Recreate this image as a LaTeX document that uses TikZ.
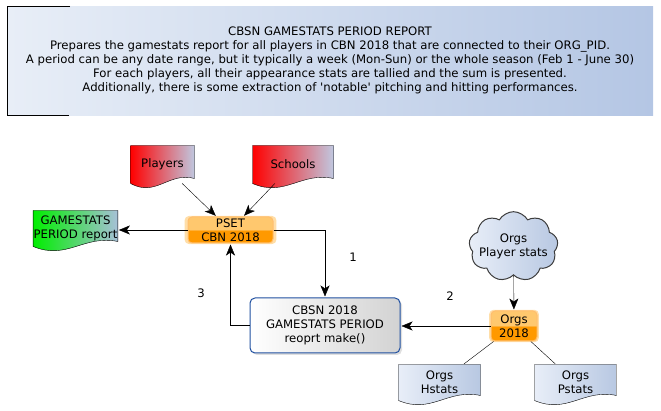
\documentclass[tikz,border=0pt]{standalone}
\usepackage{fontspec}
\setmainfont{DejaVu Sans}
\usepackage {tikz}
\usetikzlibrary {positioning,arrows.meta,shapes.symbols,shadows,backgrounds,calc}
\definecolor {noteleft}{RGB}{232,238,247}
\definecolor {noteright}{RGB}{180,198,228}
\definecolor {docred}{RGB}{255,0,0}
\definecolor {docredend}{RGB}{192,200,224}
\definecolor {docgreen}{RGB}{0,238,0}
\definecolor {docgreenend}{RGB}{168,192,216}
\definecolor {docblue}{RGB}{232,238,248}
\definecolor {docblueend}{RGB}{184,200,226}
\definecolor {psetlight}{RGB}{255,200,110}
\definecolor {psetdark}{RGB}{255,153,0}
\definecolor {psetedge}{RGB}{255,190,110}
\definecolor {boxedge}{RGB}{32,80,160}
\definecolor {cloudedge}{RGB}{60,60,60}
\pgfdeclareverticalshading{psetbar}{100bp}{color(0bp)=(psetdark); color(49.5bp)=(psetdark); color(50.5bp)=(psetlight); color(100bp)=(psetlight)}
% wavy document outline behind a node
\newcommand{\docwave}[2]{%
  \begin{pgfonlayer}{background}
    \shade[-,draw,#2] (#1.north west) -- (#1.north east) -- ([yshift=5pt]#1.south east)
      .. controls ([yshift=12pt]$(#1.south east)!0.4!(#1.south west)$) and ([yshift=-14pt]$(#1.south east)!0.6!(#1.south west)$) .. (#1.south west) -- cycle;
  \end{pgfonlayer}}

\begin{document}
\begin{tikzpicture}[x=1pt,y=-1pt,shorten >=1pt,->,>={Stealth[length=11pt,width=9pt,inset=3pt]},line width=1pt]
  \tikzstyle{every node}=[font=\fontsize{11.7}{14}\selectfont, align=center]
  \tikzstyle{doc}=[minimum height=37pt, inner sep=0pt]
  \tikzstyle{pset}=[rectangle, rounded corners=4pt, shading=psetbar, draw=psetedge, inner sep=0pt,
minimum height=26pt, drop shadow={shadow xshift=0pt, shadow yshift=0pt, shadow scale=1.08, fill=psetlight, opacity=0.6}]
  \tikzstyle{makebox}=[rectangle, rounded corners=5pt, draw=boxedge, left color=white, right color=gray!35,
minimum width=150pt, minimum height=55pt, inner sep=0pt, drop shadow={shadow xshift=2pt, shadow yshift=-2pt, opacity=0.25}]
  \tikzstyle{orgcloud}=[cloud, cloud puffs=9, cloud puff arc=120, aspect=1.4, draw=cloudedge,
left color=docblue, right color=docblueend, minimum width=89pt, minimum height=63pt, inner sep=-6pt]
  \useasboundingbox (0,0) rectangle (661,411);

  \shade[-, left color=noteleft, right color=noteright] (7,7) rectangle (653,116);
  \draw[-] (70,7) -- (7,7) -- (7,116) -- (70,116);
  \node (T_note) at (330,60) {CBSN GAMESTATS PERIOD REPORT\\
Prepares the gamestats report for all players in CBN 2018 that are connected to their ORG\_PID.\\
A period can be any date range, but it typically a week (Mon-Sun) or the whole season (Feb 1 - June 30)\\
For each players, all their appearance stats are tallied and the sum is presented.\\
Additionally, there is some extraction of \textquotesingle notable\textquotesingle{} pitching and hitting performances.};

  \node[doc, minimum width=63pt] (D_players) at (162.5,164.5) {Players};
  \node[doc, minimum width=80pt] (D_schools) at (293,164.5) {Schools};
  \node[doc, minimum width=81pt, minimum height=35pt] (D_report) at (75.5,228.5) {GAMESTATS\\PERIOD report};
  \node[pset, minimum width=85pt] (P_pset) at (230.5,230) {PSET\\CBN 2018};
  \node[makebox] (B_make) at (325,325.5) {CBSN 2018\\GAMESTATS PERIOD\\reoprt make()};
  \node[orgcloud] (C_orgstats) at (513.5,246.5) {Orgs\\Player stats};
  \node[pset, minimum width=46pt, minimum height=30pt] (P_orgs) at (514,326) {Orgs\\2018};
  \node[doc, minimum width=81pt, minimum height=35pt] (D_hstats) at (439.5,382.5) {Orgs\\Hstats};
  \node[doc, minimum width=81pt, minimum height=35pt] (D_pstats) at (575.5,382.5) {Orgs\\Pstats};
  \docwave{D_players}{left color=docred, right color=docredend}
  \docwave{D_schools}{left color=docred, right color=docredend}
  \docwave{D_report}{left color=docgreen, right color=docgreenend}
  \docwave{D_hstats}{left color=docblue, right color=docblueend}
  \docwave{D_pstats}{left color=docblue, right color=docblueend}

  \node (L_1) at (353,257) {1};
  \node (L_2) at (450,296) {2};
  \node (L_3) at (201,293) {3};

  \draw (D_players) -- (P_pset);
  \draw (D_schools) -- (P_pset);
  \draw (P_pset.west) -- (D_report.east |- P_pset.west);
  \draw (P_pset.east) -| (B_make);
  \draw (B_make.west) -| (P_pset);
  \draw (C_orgstats) -- (P_orgs);
  \draw (P_orgs.west) -- (B_make.east |- P_orgs.west);
  \draw[-] (P_orgs) -- (D_hstats);
  \draw[-] (P_orgs) -- (D_pstats);
\end{tikzpicture}
\end{document}
